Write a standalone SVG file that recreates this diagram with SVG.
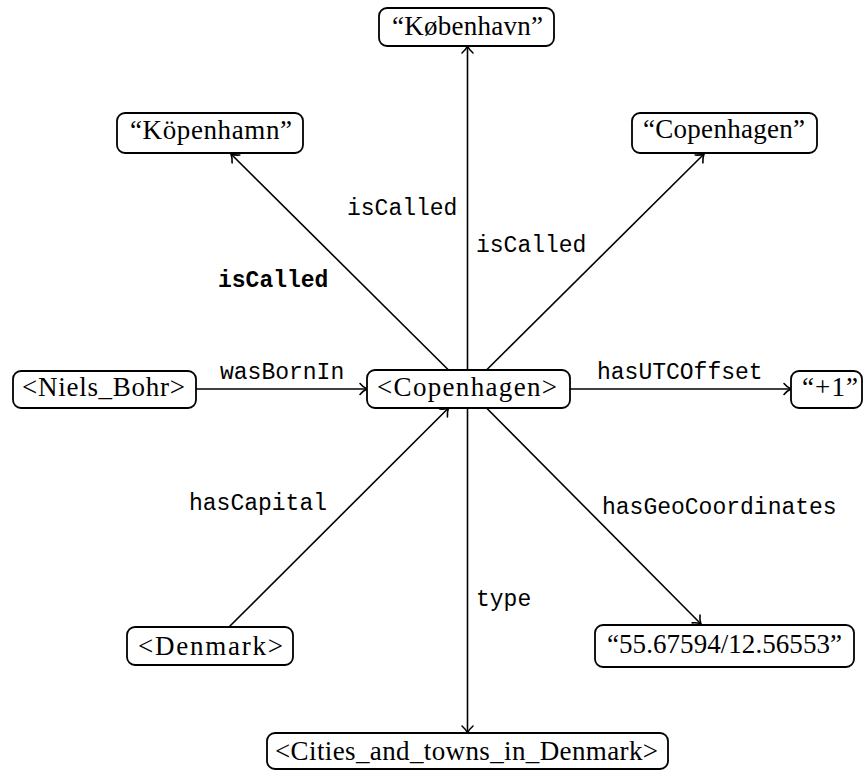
<svg xmlns="http://www.w3.org/2000/svg" width="867" height="771" viewBox="0 0 867 771">
<defs>
<marker id="arr" markerUnits="userSpaceOnUse" markerWidth="20" markerHeight="20" viewBox="-10 -10 20 20" refX="0" refY="0" orient="auto">
<path d="M -7 -5.5 C -4.5 -2.5, -1.5 -0.7, 0 0 C -1.5 0.7, -4.5 2.5, -7 5.5" fill="none" stroke="#000" stroke-width="1.6" stroke-linecap="round"/>
</marker>
<style>
.box{fill:#fff;stroke:#000;stroke-width:1.8}
.nt{font-family:"Liberation Serif","Times New Roman",serif;font-size:27px;fill:#000}
.lb{font-family:"Liberation Mono","Courier New",monospace;font-size:23px;fill:#000}
.e{stroke:#000;stroke-width:1.6;fill:none;marker-end:url(#arr)}
</style>
</defs>
<rect width="867" height="771" fill="#fff"/>
<g id="connectors">
<line class="e" x1="467.5" y1="370" x2="467.5" y2="46"/>
<line class="e" x1="448.5" y1="370" x2="231" y2="154"/>
<line class="e" x1="486.5" y1="370" x2="704" y2="154"/>
<line class="e" x1="196" y1="389" x2="367" y2="389"/>
<line class="e" x1="570" y1="389" x2="791" y2="389"/>
<line class="e" x1="229" y1="627" x2="448.5" y2="408"/>
<line class="e" x1="486.5" y1="408" x2="701" y2="624"/>
<line class="e" x1="467.5" y1="408" x2="467.5" y2="733"/>
<text class="lb" x="347" y="215">isCalled</text>
<text class="lb" x="476" y="252">isCalled</text>
<text class="lb" x="218" y="287" font-weight="bold">isCalled</text>
<text class="lb" x="220" y="379">wasBornIn</text>
<text class="lb" x="597" y="379">hasUTCOffset</text>
<text class="lb" x="189" y="510">hasCapital</text>
<text class="lb" x="602" y="514">hasGeoCoordinates</text>
<text class="lb" x="476" y="606">type</text>
</g>
<g id="kobenhavn"><rect class="box" x="379" y="8" width="175" height="38" rx="8"/><text class="nt" x="392" y="35" textLength="151">“København”</text></g>
<g id="kopenhamn"><rect class="box" x="117" y="113" width="186" height="40" rx="8"/><text class="nt" x="130" y="139" textLength="162">“Köpenhamn”</text></g>
<g id="copenhagen-literal"><rect class="box" x="632" y="113" width="185" height="40" rx="8"/><text class="nt" x="643" y="138" textLength="162">“Copenhagen”</text></g>
<g id="niels-bohr"><rect class="box" x="13" y="371" width="183" height="37" rx="8"/><text class="nt" x="22" y="396" textLength="163">&lt;Niels_Bohr&gt;</text></g>
<g id="copenhagen"><rect class="box" x="367" y="370" width="203" height="38" rx="8"/><text class="nt" x="377" y="396" textLength="180">&lt;Copenhagen&gt;</text></g>
<g id="utc"><rect class="box" x="791" y="371" width="71" height="37" rx="8"/><text class="nt" x="802" y="396" textLength="56">“+1”</text></g>
<g id="denmark"><rect class="box" x="127" y="627" width="166" height="38" rx="8"/><text class="nt" x="138" y="655" textLength="145">&lt;Denmark&gt;</text></g>
<g id="geo"><rect class="box" x="595" y="625" width="259" height="42" rx="8"/><text class="nt" x="607" y="653" textLength="235">“55.67594/12.56553”</text></g>
<g id="cities"><rect class="box" x="267" y="733" width="401" height="36" rx="8"/><text class="nt" x="275" y="760" textLength="383">&lt;Cities_and_towns_in_Denmark&gt;</text></g>
</svg>
